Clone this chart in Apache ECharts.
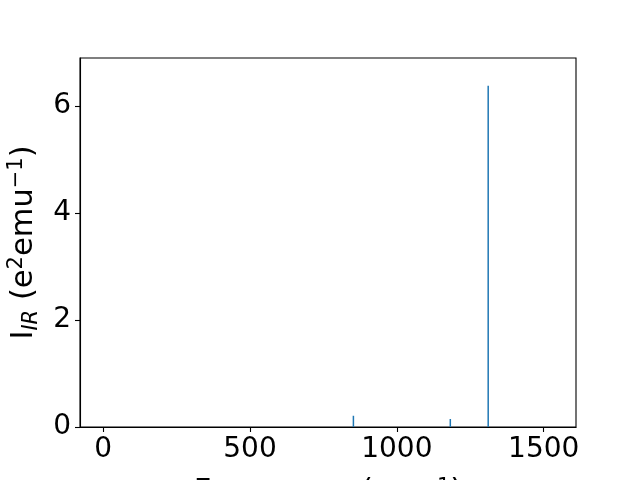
<!DOCTYPE html>
<html>
<head>
<meta charset="utf-8">
<script src="https://cdn.jsdelivr.net/npm/echarts@6/dist/echarts.min.js"></script>
<style>html,body{margin:0;padding:0;background:#fff}#c{width:640px;height:480px}</style>
</head>
<body>
<div id="c"></div>
<script>
const frequencies = [852, 1182, 1311];
const intensities = [0.21, 0.15, 6.38];
const xTicks = [0, 500, 1000, 1500];
const yTicks = [0, 2, 4, 6];

const chart = echarts.init(document.getElementById('c'), null, {renderer: 'canvas'});
const font = 'DejaVu Sans';
const data = frequencies.map((f, i) => [f, intensities[i]]);

chart.setOption({
  animation: false,
  backgroundColor: '#fff',
  grid: {left: 80, right: 64, top: 58, bottom: 53, containLabel: false, outerBoundsMode: 'none', show: true, borderColor: '#000', borderWidth: 1.1, backgroundColor: 'transparent'},
  xAxis: {
    type: 'value', min: -79, max: 1610, interval: 500,
    name: '{m|Frequency (cm}{sup|−1}{m|)}',
    nameLocation: 'middle', nameGap: 50,
    nameTextStyle: {rich: {m: {fontFamily: font, fontSize: 30.5, color: '#000'}, sup: {fontFamily: font, fontSize: 21, color: '#000', verticalAlign: 'top'}}},
    axisLine: {show: true, onZero: false, lineStyle: {color: '#000', width: 1.1}},
    axisTick: {show: true, inside: false, length: 5, lineStyle: {color: '#000', width: 1.1}, customValues: xTicks},
    axisLabel: {fontFamily: font, fontSize: 28, color: '#000', margin: 9, customValues: xTicks, showMinLabel: true, showMaxLabel: true, formatter: v => String(v)},
    splitLine: {show: false}
  },
  yAxis: {
    type: 'value', min: 0, max: 6.9, interval: 2,
    name: '{m|I}{sub|IR}{m| (e}{sup|2}{m|emu}{sup|−1}{m|)}',
    nameLocation: 'middle', nameGap: 38, nameRotate: 90,
    nameTextStyle: {rich: {
      m: {fontFamily: font, fontSize: 30.5, color: '#000', lineHeight: 36},
      sub: {fontFamily: font, fontSize: 21, fontStyle: 'italic', color: '#000', verticalAlign: 'bottom', lineHeight: 36},
      sup: {fontFamily: font, fontSize: 21, color: '#000', verticalAlign: 'top', lineHeight: 36}
    }},
    axisLine: {show: true, onZero: false, lineStyle: {color: '#000', width: 1.1}},
    axisTick: {show: true, inside: false, length: 5, lineStyle: {color: '#000', width: 1.1}, customValues: yTicks},
    axisLabel: {fontFamily: font, fontSize: 28, color: '#000', margin: 9, customValues: yTicks, formatter: v => String(v)},
    splitLine: {show: false}
  },
  series: [{
    type: 'custom',
    data: data,
    clip: true,
    renderItem: function (params, api) {
      const x = api.value(0), y = api.value(1);
      const p0 = api.coord([x, 0]);
      const p1 = api.coord([x, y]);
      return {type: 'line', shape: {x1: p0[0], y1: p0[1], x2: p1[0], y2: p1[1]}, style: {stroke: '#1f77b4', lineWidth: 1.5}};
    }
  }]
});
</script>
</body>
</html>
